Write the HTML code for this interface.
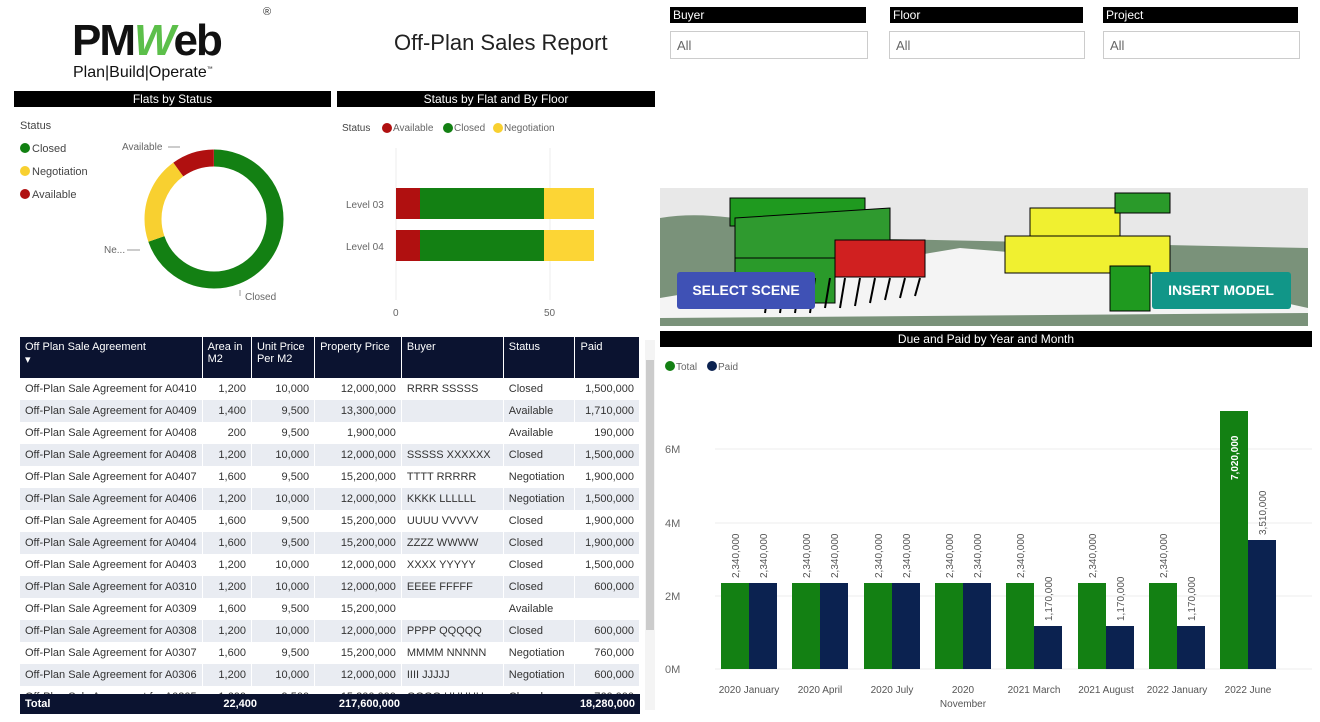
<!DOCTYPE html>
<html><head><meta charset="utf-8"><style>
body{margin:0;width:1320px;height:722px;background:#fff;font-family:"Liberation Sans",sans-serif;position:relative;overflow:hidden;color:#333}
.a{position:absolute}
.bar{position:absolute;background:#000;color:#fff;font-size:12px;text-align:center;line-height:16px;height:16px}
.sl{position:absolute;top:7px;height:16px;background:#000;color:#fff;font-size:12px;line-height:16px;padding-left:3px;box-sizing:border-box}
.sb{position:absolute;top:31px;height:28px;border:1px solid #ccc;box-sizing:border-box;font-size:13px;color:#666;line-height:28px;padding-left:6px}
table{border-collapse:collapse;font-size:11px}
td{padding:0 5px;height:22px;white-space:nowrap;border-right:1px solid #fff}
tr.e td{background:#e9ecf2}
.d{display:inline-block;width:10px;height:10px;border-radius:50%;vertical-align:-1px;margin-right:2px}
</style></head><body>
<div class="a" style="left:72px;top:16px;font:bold 44px 'Liberation Sans',sans-serif;color:#111;letter-spacing:-2px">PM<span style="color:#5cbf4a;font-style:italic">W</span>eb</div>
<div class="a" style="left:263px;top:6px;font-size:11px">®</div>
<div class="a" style="left:73px;top:64px;font-size:16px;color:#111">Plan|Build|Operate<sup style="font-size:6px">™</sup></div>
<div class="a" style="left:394px;top:30px;font-size:22px;color:#222">Off-Plan Sales Report</div>

<div class="sl" style="left:670px;width:196px">Buyer</div><div class="sb" style="left:670px;width:198px">All</div>
<div class="sl" style="left:890px;width:193px">Floor</div><div class="sb" style="left:889px;width:196px">All</div>
<div class="sl" style="left:1103px;width:195px">Project</div><div class="sb" style="left:1103px;width:197px">All</div>

<div class="bar" style="left:14px;top:91px;width:317px">Flats by Status</div>
<div class="bar" style="left:337px;top:91px;width:318px">Status by Flat and By Floor</div>
<div class="a" style="left:20px;top:115px;font-size:11px;line-height:23px;color:#444">Status<br><span class="d" style="background:#118011"></span>Closed<br><span class="d" style="background:#f8d030"></span>Negotiation<br><span class="d" style="background:#b01010"></span>Available</div>
<svg class="a" style="left:0;top:0" width="660" height="330">
<circle cx="214" cy="219" r="61" fill="none" stroke="#138013" stroke-width="17" stroke-dasharray="267 400" transform="rotate(-90 214 219)"/>
<circle cx="214" cy="219" r="61" fill="none" stroke="#f8d030" stroke-width="17" stroke-dasharray="0 267 78 400" transform="rotate(-90 214 219)"/>
<circle cx="214" cy="219" r="61" fill="none" stroke="#b01010" stroke-width="17" stroke-dasharray="0 345 38 400" transform="rotate(-90 214 219)"/>
<text x="122" y="150" font-size="10" fill="#666">Available</text><text x="104" y="253" font-size="10" fill="#666">Ne...</text><text x="245" y="300" font-size="10" fill="#666">Closed</text>
<path d="M168 147 H180 M127 250 H140 M240 296 V290" stroke="#999"/>
<text x="342" y="131" font-size="10" fill="#444">Status</text>
<circle cx="387" cy="128" r="5" fill="#b01010"/><text x="393" y="131" font-size="10" fill="#666">Available</text>
<circle cx="448" cy="128" r="5" fill="#138013"/><text x="454" y="131" font-size="10" fill="#666">Closed</text>
<circle cx="498" cy="128" r="5" fill="#f8d030"/><text x="504" y="131" font-size="10" fill="#666">Negotiation</text>
<line x1="396" y1="148" x2="396" y2="300" stroke="#eee"/><line x1="550" y1="148" x2="550" y2="300" stroke="#eee"/>
<rect x="396" y="188" width="24" height="31" fill="#b01010"/><rect x="420" y="188" width="124" height="31" fill="#138013"/><rect x="544" y="188" width="50" height="31" fill="#fcd535"/>
<rect x="396" y="230" width="24" height="31" fill="#b01010"/><rect x="420" y="230" width="124" height="31" fill="#138013"/><rect x="544" y="230" width="50" height="31" fill="#fcd535"/>
<text x="346" y="208" font-size="10" fill="#666">Level 03</text><text x="346" y="250" font-size="10" fill="#666">Level 04</text>
<text x="393" y="316" font-size="10" fill="#666">0</text><text x="544" y="316" font-size="10" fill="#666">50</text>
</svg>

<svg class="a" style="left:660px;top:188px" width="648" height="138">
<rect width="648" height="138" fill="#e8e8e8"/>
<path d="M0 30 C60 20 120 40 180 50 L648 60 L648 138 L0 138Z" fill="#7a927a"/>
<path d="M0 110 L300 60 L420 70 L648 120 L648 138 L0 138Z" fill="#f4f4f4"/>
<path d="M0 130 L648 125 L648 138 L0 138Z" fill="#7a927a"/>
<rect x="70" y="10" width="135" height="28" fill="#1f9a1f" stroke="#000"/>
<path d="M75 30 L230 20 L230 70 L75 100Z" fill="#2f9a2f" stroke="#000"/>
<rect x="75" y="70" width="100" height="45" fill="#2a9a2a" stroke="#000"/>
<rect x="175" y="52" width="90" height="37" fill="#d02020" stroke="#000"/>
<g stroke="#000" stroke-width="2"><path d="M110 90 L105 125 M125 90 L120 125 M140 90 L135 125 M155 90 L150 125 M170 90 L165 120 M185 90 L180 120 M200 90 L195 118 M215 90 L210 115 M230 90 L225 112 M245 90 L240 110 M260 90 L255 108"/></g>
<rect x="345" y="48" width="165" height="37" fill="#f0f030" stroke="#000"/>
<rect x="370" y="20" width="90" height="28" fill="#f0f030" stroke="#000"/>
<rect x="450" y="78" width="40" height="45" fill="#1f9a1f" stroke="#000"/>
<rect x="455" y="5" width="55" height="20" fill="#2a9a2a" stroke="#000"/>
<rect x="17" y="84" width="138" height="37" rx="3" fill="#3f51b5"/><text x="86" y="107" font-size="14" font-weight="bold" fill="#fff" text-anchor="middle">SELECT SCENE</text>
<rect x="492" y="84" width="139" height="37" rx="3" fill="#119688"/><text x="561" y="107" font-size="14" font-weight="bold" fill="#fff" text-anchor="middle">INSERT MODEL</text>
</svg>

<div class="bar" style="left:660px;top:331px;width:652px">Due and Paid by Year and Month</div>
<svg class="a" style="left:660px;top:340px" width="660" height="382" font-family="Liberation Sans,sans-serif">
<circle cx="10" cy="26" r="5" fill="#138013"/><text x="16" y="30" font-size="10" fill="#666">Total</text>
<circle cx="52" cy="26" r="5" fill="#0b2250"/><text x="58" y="30" font-size="10" fill="#666">Paid</text>
<g stroke="#eee"><line x1="55" y1="109" x2="652" y2="109"/><line x1="55" y1="183" x2="652" y2="183"/><line x1="55" y1="256" x2="652" y2="256"/><line x1="55" y1="329" x2="652" y2="329"/></g>
<g font-size="11" fill="#666"><text x="5" y="113">6M</text><text x="5" y="187">4M</text><text x="5" y="260">2M</text><text x="5" y="333">0M</text></g>
<g font-size="10" fill="#555" text-anchor="middle">
<text x="89" y="353">2020 January</text><text x="160" y="353">2020 April</text><text x="232" y="353">2020 July</text><text x="303" y="353">2020</text><text x="303" y="367">November</text><text x="374" y="353">2021 March</text><text x="446" y="353">2021 August</text><text x="517" y="353">2022 January</text><text x="588" y="353">2022 June</text>
</g>
<g fill="#138013">
<rect x="61" y="243" width="28" height="86"/><rect x="132" y="243" width="28" height="86"/><rect x="204" y="243" width="28" height="86"/><rect x="275" y="243" width="28" height="86"/><rect x="346" y="243" width="28" height="86"/><rect x="418" y="243" width="28" height="86"/><rect x="489" y="243" width="28" height="86"/><rect x="560" y="71" width="28" height="258"/></g>
<g fill="#0b2250">
<rect x="89" y="243" width="28" height="86"/><rect x="160" y="243" width="28" height="86"/><rect x="232" y="243" width="28" height="86"/><rect x="303" y="243" width="28" height="86"/><rect x="374" y="286" width="28" height="43"/><rect x="446" y="286" width="28" height="43"/><rect x="517" y="286" width="28" height="43"/><rect x="588" y="200" width="28" height="129"/></g>
<g font-size="10" fill="#555">
<text transform="translate(79,238) rotate(-90)">2,340,000</text><text transform="translate(107,238) rotate(-90)">2,340,000</text>
<text transform="translate(150,238) rotate(-90)">2,340,000</text><text transform="translate(178,238) rotate(-90)">2,340,000</text>
<text transform="translate(222,238) rotate(-90)">2,340,000</text><text transform="translate(250,238) rotate(-90)">2,340,000</text>
<text transform="translate(293,238) rotate(-90)">2,340,000</text><text transform="translate(321,238) rotate(-90)">2,340,000</text>
<text transform="translate(364,238) rotate(-90)">2,340,000</text><text transform="translate(392,281) rotate(-90)">1,170,000</text>
<text transform="translate(436,238) rotate(-90)">2,340,000</text><text transform="translate(464,281) rotate(-90)">1,170,000</text>
<text transform="translate(507,238) rotate(-90)">2,340,000</text><text transform="translate(535,281) rotate(-90)">1,170,000</text>
<text transform="translate(606,195) rotate(-90)">3,510,000</text>
<text transform="translate(578,140) rotate(-90)" fill="#fff" font-weight="bold">7,020,000</text>
</g>
</svg>

<div class="a" style="left:20px;top:337px;width:620px;height:377px;overflow:hidden">
<table style="width:620px">
<tr style="background:#0b1330;color:#fff"><td style="height:41px;vertical-align:top;padding-top:4px;width:175px;box-sizing:border-box">Off Plan Sale Agreement<br>▾</td><td style="vertical-align:top;padding-top:4px">Area in<br>M2</td><td style="vertical-align:top;padding-top:4px">Unit Price<br>Per M2</td><td style="vertical-align:top;padding-top:4px">Property Price</td><td style="vertical-align:top;padding-top:4px">Buyer</td><td style="vertical-align:top;padding-top:4px">Status</td><td style="vertical-align:top;padding-top:4px">Paid</td></tr>
<tr><td>Off-Plan Sale Agreement for A0410</td><td align=right>1,200</td><td align=right>10,000</td><td align=right>12,000,000</td><td>RRRR SSSSS</td><td>Closed</td><td align=right>1,500,000</td></tr>
<tr class=e><td>Off-Plan Sale Agreement for A0409</td><td align=right>1,400</td><td align=right>9,500</td><td align=right>13,300,000</td><td></td><td>Available</td><td align=right>1,710,000</td></tr>
<tr><td>Off-Plan Sale Agreement for A0408</td><td align=right>200</td><td align=right>9,500</td><td align=right>1,900,000</td><td></td><td>Available</td><td align=right>190,000</td></tr>
<tr class=e><td>Off-Plan Sale Agreement for A0408</td><td align=right>1,200</td><td align=right>10,000</td><td align=right>12,000,000</td><td>SSSSS XXXXXX</td><td>Closed</td><td align=right>1,500,000</td></tr>
<tr><td>Off-Plan Sale Agreement for A0407</td><td align=right>1,600</td><td align=right>9,500</td><td align=right>15,200,000</td><td>TTTT RRRRR</td><td>Negotiation</td><td align=right>1,900,000</td></tr>
<tr class=e><td>Off-Plan Sale Agreement for A0406</td><td align=right>1,200</td><td align=right>10,000</td><td align=right>12,000,000</td><td>KKKK LLLLLL</td><td>Negotiation</td><td align=right>1,500,000</td></tr>
<tr><td>Off-Plan Sale Agreement for A0405</td><td align=right>1,600</td><td align=right>9,500</td><td align=right>15,200,000</td><td>UUUU VVVVV</td><td>Closed</td><td align=right>1,900,000</td></tr>
<tr class=e><td>Off-Plan Sale Agreement for A0404</td><td align=right>1,600</td><td align=right>9,500</td><td align=right>15,200,000</td><td>ZZZZ WWWW</td><td>Closed</td><td align=right>1,900,000</td></tr>
<tr><td>Off-Plan Sale Agreement for A0403</td><td align=right>1,200</td><td align=right>10,000</td><td align=right>12,000,000</td><td>XXXX YYYYY</td><td>Closed</td><td align=right>1,500,000</td></tr>
<tr class=e><td>Off-Plan Sale Agreement for A0310</td><td align=right>1,200</td><td align=right>10,000</td><td align=right>12,000,000</td><td>EEEE FFFFF</td><td>Closed</td><td align=right>600,000</td></tr>
<tr><td>Off-Plan Sale Agreement for A0309</td><td align=right>1,600</td><td align=right>9,500</td><td align=right>15,200,000</td><td></td><td>Available</td><td align=right></td></tr>
<tr class=e><td>Off-Plan Sale Agreement for A0308</td><td align=right>1,200</td><td align=right>10,000</td><td align=right>12,000,000</td><td>PPPP QQQQQ</td><td>Closed</td><td align=right>600,000</td></tr>
<tr><td>Off-Plan Sale Agreement for A0307</td><td align=right>1,600</td><td align=right>9,500</td><td align=right>15,200,000</td><td>MMMM NNNNN</td><td>Negotiation</td><td align=right>760,000</td></tr>
<tr class=e><td>Off-Plan Sale Agreement for A0306</td><td align=right>1,200</td><td align=right>10,000</td><td align=right>12,000,000</td><td>IIII JJJJJ</td><td>Negotiation</td><td align=right>600,000</td></tr>
<tr><td>Off-Plan Sale Agreement for A0305</td><td align=right>1,600</td><td align=right>9,500</td><td align=right>15,200,000</td><td>GGGG HHHHH</td><td>Closed</td><td align=right>760,000</td></tr>
</table>
<div class="a" style="left:0;top:357px;width:620px;height:20px;background:#0b1330;color:#fff;font-size:11px;font-weight:bold;line-height:20px">
<span class="a" style="left:5px">Total</span><span class="a" style="left:195px;width:42px;text-align:right">22,400</span><span class="a" style="left:300px;width:80px;text-align:right">217,600,000</span><span class="a" style="left:530px;width:85px;text-align:right">18,280,000</span></div>
</div>
<div class="a" style="left:645px;top:340px;width:10px;height:370px;background:#f4f4f4"></div>
<div class="a" style="left:646px;top:360px;width:8px;height:270px;background:#ccc"></div>
</body></html>
